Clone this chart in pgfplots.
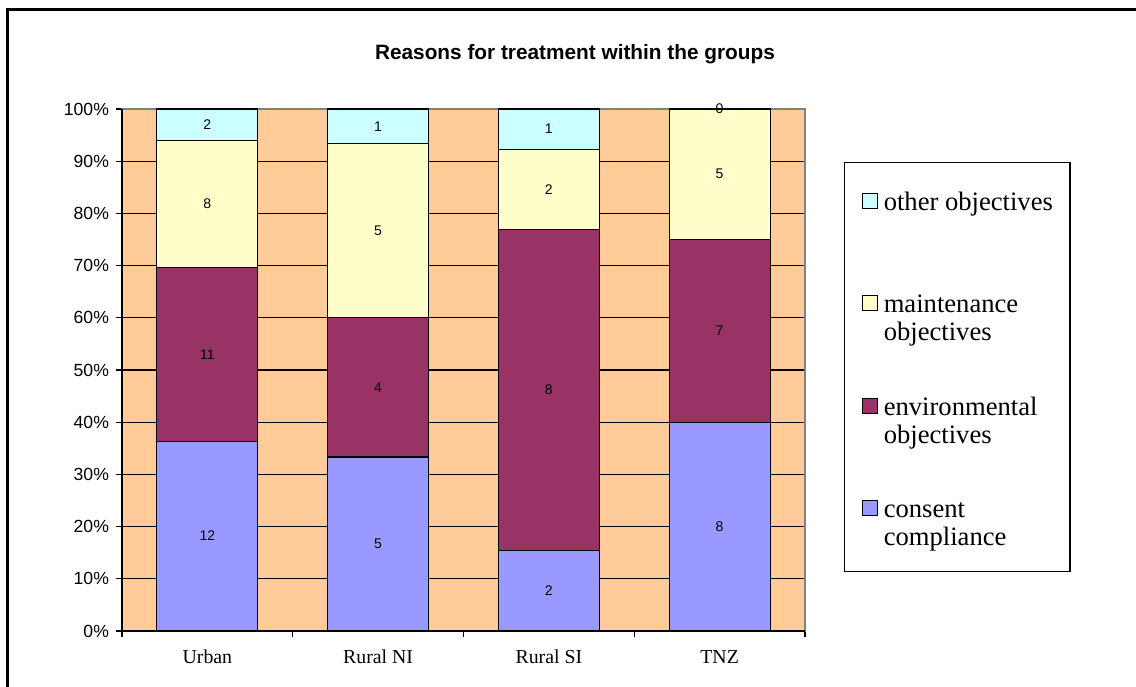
\documentclass[border=0pt]{standalone}
\usepackage{pgfplots}
\pgfplotsset{compat=1.18}
\usepackage{fontspec}
\setmainfont{Liberation Serif}
\setsansfont{Liberation Sans}

\definecolor{bgorange}{HTML}{FFCC99}
\definecolor{consent}{HTML}{9999FF}
\definecolor{environ}{HTML}{993366}
\definecolor{maint}{HTML}{FFFFCC}
\definecolor{other}{HTML}{CCFFFF}

% one stacked segment: filled bar, its count printed in the middle
\pgfplotsset{
  seg/.style={fill=#1, draw=black, line width=0.6pt,
    nodes near coords, point meta=explicit symbolic,
    every node near coord/.append style={anchor=center, text=black,
      font=\sffamily\fontsize{7}{8}\selectfont},
    legend image code/.code={\draw[##1] (0pt,15pt) rectangle (7.5pt,22.5pt);}},
}

\begin{document}
\begin{tikzpicture}
\useasboundingbox (0,0) rectangle (568pt,343pt);
\draw[line width=1.5pt] (3.5pt,-5pt) -- (3.5pt,338pt) -- (575pt,338pt);
\node[font=\sffamily\bfseries\fontsize{10.4}{12}\selectfont] at (287.5pt,316pt)
  {Reasons for treatment within the groups};
\begin{axis}[
  at={(61pt,27.5pt)}, anchor=south west,
  scale only axis, width=341.5pt, height=261pt,
  clip=false,
  ybar stacked, bar width=0.5915,
  xmin=-0.5, xmax=3.5, ymin=0, ymax=100,
  xtick={0,1,2,3}, xticklabels={Urban,Rural NI,Rural SI,TNZ},
  minor xtick={-0.5,0.5,1.5,2.5,3.5},
  ytick={0,10,...,100},
  yticklabels={0\%,10\%,20\%,30\%,40\%,50\%,60\%,70\%,80\%,90\%,100\%},
  xtick pos=bottom, ytick pos=left,
  tick align=outside, major tick length=3pt, minor tick length=3pt,
  tick style={black, line width=0.6pt},
  major x tick style={draw=none},
  ymajorgrids, grid style={black, line width=0.6pt},
  axis background/.style={fill=bgorange},
  axis line style={gray, line width=0.6pt},
  % black left and bottom axis lines; the empty TNZ segment keeps its
  % count on the top edge, written last so no bar covers it
  after end axis/.code={
    \draw[black, line width=0.8pt]
      (rel axis cs:0,1) -- (rel axis cs:0,0) -- (rel axis cs:1,0);
    \node[font=\sffamily\fontsize{7}{8}\selectfont, text=black]
      at (axis cs:3,100) {0};},
  yticklabel style={font=\sffamily\fontsize{8.8}{10}\selectfont},
  xticklabel style={font=\rmfamily\fontsize{9.9}{12}\selectfont, yshift=-3pt},
  reverse legend,
  legend style={at={(1.0571,0.8985)}, anchor=north west, draw=black,
    line width=0.6pt, font=\rmfamily\fontsize{13.3}{14}\selectfont,
    inner xsep=8.5pt, inner ysep=11.5pt, row sep=26.75pt, column sep=3pt,
    cells={anchor=base west, align=left}, nodes={inner sep=0pt}},
]
% percentages within each group, with the counts as labels
\addplot[seg=consent] coordinates {(0,36.36)[12] (1,33.33)[5] (2,15.38)[2] (3,40.00)[8]};
\addlegendentry{consent\\compliance}
\addplot[seg=environ] coordinates {(0,33.33)[11] (1,26.67)[4] (2,61.54)[8] (3,35.00)[7]};
\addlegendentry{environmental\\objectives}
\addplot[seg=maint] coordinates {(0,24.24)[8] (1,33.33)[5] (2,15.38)[2] (3,25.00)[5]};
\addlegendentry{maintenance\\objectives}
\addplot[seg=other] coordinates {(0,6.07)[2] (1,6.67)[1] (2,7.70)[1] (3,0.00)[0]};
\addlegendentry{\rule{0pt}{12.5pt}other objectives\\\strut}
\end{axis}
\end{tikzpicture}
\end{document}
